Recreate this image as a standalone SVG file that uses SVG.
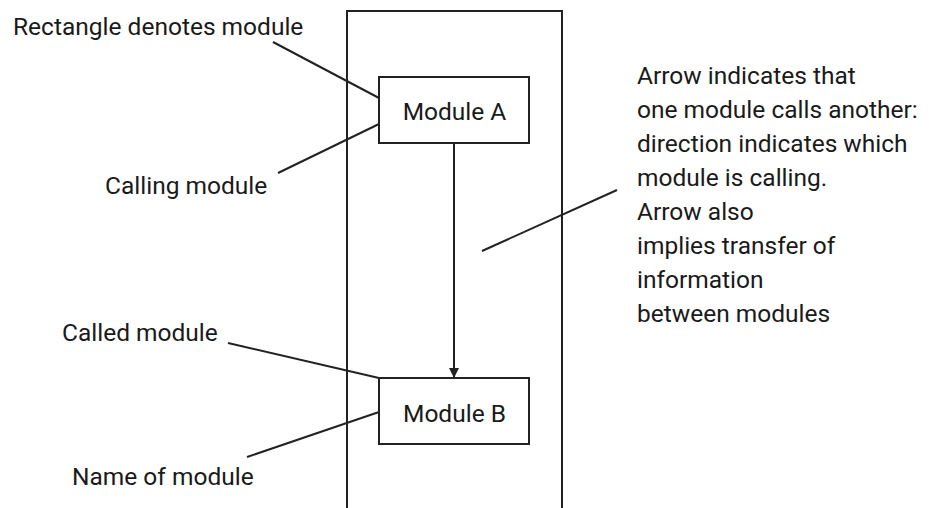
<svg xmlns="http://www.w3.org/2000/svg" width="930" height="508" viewBox="0 0 930 508">
<defs>
<style>
.box{fill:#fff;stroke:#222;stroke-width:2}
.ln{stroke:#222;stroke-width:2;fill:none}
text{font-family:Roboto,"Liberation Sans",sans-serif;font-size:24.5px;fill:#1a1a1a}
.c{text-anchor:middle}
</style>
<marker id="ah" viewBox="0 0 10 10" refX="10" refY="5" markerWidth="10" markerHeight="10" markerUnits="userSpaceOnUse" orient="auto">
<path d="M0,0 L10,5 L0,10 Z" fill="#222"/>
</marker>
</defs>
<rect x="0" y="0" width="930" height="508" fill="#fff"/>
<g id="frame"><rect class="box" x="347" y="11" width="215" height="510"/></g>
<g id="connectors">
<line class="ln" x1="454" y1="143" x2="454" y2="378" marker-end="url(#ah)"/>
<line class="ln" x1="273" y1="42" x2="379" y2="98"/>
<line class="ln" x1="278" y1="173" x2="379" y2="124"/>
<line class="ln" x1="228" y1="343" x2="379" y2="378"/>
<line class="ln" x1="247" y1="457" x2="379" y2="412"/>
<line class="ln" x1="482" y1="251" x2="617" y2="190"/>
</g>
<g id="moduleA"><rect class="box" x="379" y="77" width="150" height="66"/><text class="c" x="454.5" y="120">Module A</text></g>
<g id="moduleB"><rect class="box" x="379" y="378" width="150" height="66"/><text class="c" x="454.5" y="421.5">Module B</text></g>
<g id="labels">
<text x="13" y="35">Rectangle denotes module</text>
<text x="105" y="194">Calling module</text>
<text x="62" y="341">Called module</text>
<text x="72" y="485">Name of module</text>
<text x="637"><tspan x="637" y="84">Arrow indicates that</tspan><tspan x="637" y="118">one module calls another:</tspan><tspan x="637" y="152">direction indicates which</tspan><tspan x="637" y="186">module is calling.</tspan><tspan x="637" y="220">Arrow also</tspan><tspan x="637" y="254">implies transfer of</tspan><tspan x="637" y="288">information</tspan><tspan x="637" y="322">between modules</tspan></text>
</g>
</svg>
